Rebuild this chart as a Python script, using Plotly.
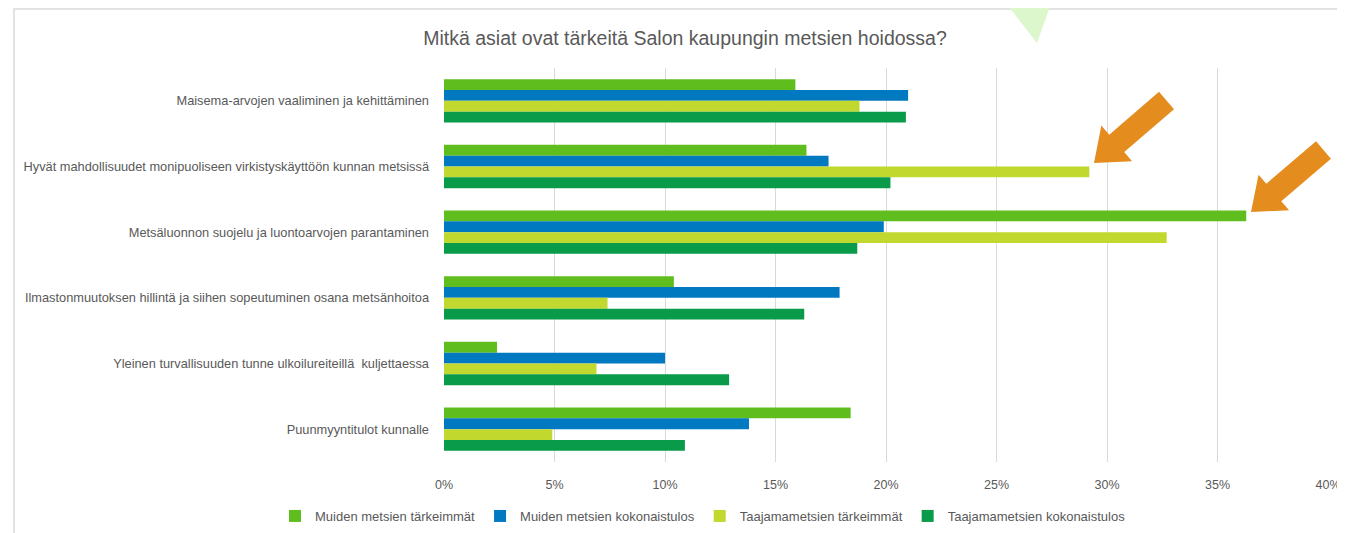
import plotly.graph_objects as go
import math

categories = [
    "Maisema-arvojen vaaliminen ja kehittäminen",
    "Hyvät mahdollisuudet monipuoliseen virkistyskäyttöön kunnan metsissä",
    "Metsäluonnon suojelu ja luontoarvojen parantaminen",
    "Ilmastonmuutoksen hillintä ja siihen sopeutuminen osana metsänhoitoa",
    "Yleinen turvallisuuden tunne ulkoilureiteillä  kuljettaessa",
    "Puunmyyntitulot kunnalle",
]
series_names = [
    "Muiden metsien tärkeimmät",
    "Muiden metsien kokonaistulos",
    "Taajamametsien tärkeimmät",
    "Taajamametsien kokonaistulos",
]
muiden_tarkeimmat = [15.9, 16.4, 36.3, 10.4, 2.4, 18.4]
muiden_kokonais = [21.0, 17.4, 19.9, 17.9, 10.0, 13.8]
taajama_tarkeimmat = [18.8, 29.2, 32.7, 7.4, 6.9, 4.9]
taajama_kokonais = [20.9, 20.2, 18.7, 16.3, 12.9, 10.9]
tick_vals = [0, 5, 10, 15, 20, 25, 30, 35, 40]
tick_text = ["0%", "5%", "10%", "15%", "20%", "25%", "30%", "35%", "40%"]

colors = ["#5fbe1e", "#0079c1", "#c1d82f", "#099a4a"]
values = [muiden_tarkeimmat, muiden_kokonais, taajama_tarkeimmat, taajama_kokonais]

OFF = 8  # page body margin offset
W, H = 1345 - OFF, 533 - OFF
# plot area in window pixels: x 444..1328, y 68..462
L, R, T, B = 444 - OFF, 1345 - 1328, 68 - OFF, 533 - 462
PW, PH = W - L - R, H - T - B

def px(x, y):
    """window pixel -> paper coords"""
    fx, fy = x - OFF, y - OFF
    return (fx - L) / PW, (H - B - fy) / PH

fig = go.Figure()
for name, vals, col in zip(series_names, values, colors):
    fig.add_trace(go.Bar(
        y=categories, x=vals, name=name, orientation="h",
        marker=dict(color=col, line=dict(width=0)),
    ))

font_family = "Liberation Sans"
gray = "#595959"

shapes = []
x0, y0 = px(14, 9)
x1, y1 = px(1400, 560)
shapes.append(dict(type="rect", xref="paper", yref="paper", x0=x0, y0=y1, x1=x1, y1=y0,
                   line=dict(color="#d9d9d9", width=1.5), fillcolor="rgba(0,0,0,0)", layer="below"))

def path_from(points):
    pts = [px(a, b) for a, b in points]
    return "M " + " L ".join(f"{a:.5f},{b:.5f}" for a, b in pts) + " Z"

shapes.append(dict(type="path", xref="paper", yref="paper",
                   path=path_from([(1002, -2), (1053, -2), (1037, 43)]),
                   fillcolor="#ddf7cc", line=dict(width=0)))

def block_arrow(tail, tip, shaft_w=23, head_w=47, head_len=30):
    dx, dy = tip[0] - tail[0], tip[1] - tail[1]
    d = math.hypot(dx, dy)
    ux, uy = dx / d, dy / d
    nx, ny = -uy, ux
    bx, by = tip[0] - ux * head_len, tip[1] - uy * head_len
    s, h = shaft_w / 2, head_w / 2
    pts = [
        (tail[0] + nx * s, tail[1] + ny * s),
        (bx + nx * s, by + ny * s),
        (bx + nx * h, by + ny * h),
        tip,
        (bx - nx * h, by - ny * h),
        (bx - nx * s, by - ny * s),
        (tail[0] - nx * s, tail[1] - ny * s),
    ]
    return path_from(pts)

orange = "#e58c1f"
shapes.append(dict(type="path", xref="paper", yref="paper",
                   path=block_arrow((1166.5, 100.5), (1094, 163)),
                   fillcolor=orange, line=dict(width=0)))
shapes.append(dict(type="path", xref="paper", yref="paper",
                   path=block_arrow((1323.5, 150), (1251, 212)),
                   fillcolor=orange, line=dict(width=0)))

lx, ly = px(703, 516)

fig.update_layout(
    width=W, height=H,
    margin=dict(l=L, r=R, t=T, b=B, autoexpand=False),
    paper_bgcolor="white", plot_bgcolor="white",
    barmode="group", bargap=0.34, bargroupgap=0,
    font=dict(family=font_family, color=gray, size=12),
    title=dict(text="Mitkä asiat ovat tärkeitä Salon kaupungin metsien hoidossa?",
               x=(685 - OFF) / W, xanchor="center", y=1 - (38 - OFF) / H, yanchor="middle",
               yref="container", font=dict(size=19.5, color=gray, family=font_family)),
    xaxis=dict(range=[0, 40], tickvals=tick_vals, ticktext=tick_text,
               showgrid=True, gridcolor="#d9d9d9", gridwidth=1, zeroline=False,
               showline=False, ticks="", ticklabelstandoff=13,
               tickfont=dict(size=12.5, color=gray)),
    yaxis=dict(autorange="reversed", showgrid=False, zeroline=False, showline=False,
               ticks="", ticklabelstandoff=14, tickfont=dict(size=12.8, color=gray)),
    legend=dict(orientation="h", x=lx, xanchor="center",
                y=ly, yanchor="middle", traceorder="normal",
                font=dict(size=13, color=gray), itemwidth=30),
    shapes=shapes,
    showlegend=True,
)

fig.write_html("out.html")
